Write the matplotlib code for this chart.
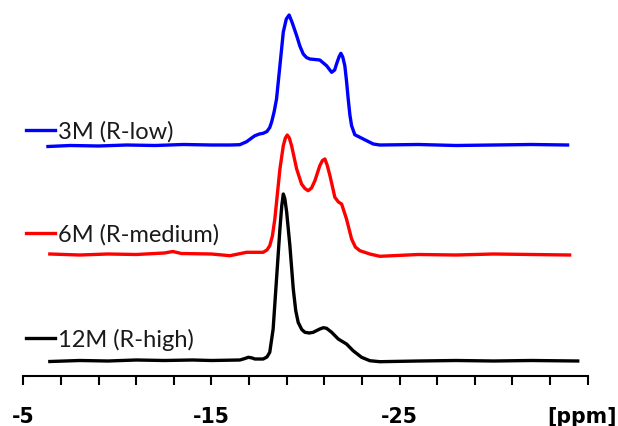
import numpy as np
import matplotlib
matplotlib.use('Agg')
import matplotlib.pyplot as plt

plt.rcParams['font.family'] = ['Lato', 'DejaVu Sans']

# chemical shift [ppm] and intensity above own baseline (arbitrary units)
ppm_low = [-6.31, -7.5, -9.0, -10.5, -12.0, -13.5, -15.0, -15.98, -16.51, -16.87, -17.1,
           -17.31, -17.55, -17.75, -17.95, -18.10, -18.20, -18.33, -18.46, -18.64, -18.82,
           -18.98, -19.13, -19.3, -19.53, -19.7, -19.88, -20.05, -20.23, -20.5, -20.76,
           -21.12, -21.39, -21.55, -21.65, -21.78, -21.88, -21.98, -22.09, -22.18, -22.27,
           -22.36, -22.45, -22.62, -23.07, -23.6, -23.95, -26.0, -28.0, -30.0, -32.0, -33.93]
int_low = [-1.5, -0.5, -1.0, 0.0, -0.5, 0.5, 0.0, 0.0, 0.3, 3.3, 6.5,
           9.3, 11.0, 11.7, 13.5, 17.5, 23.0, 33.0, 46.0, 79.3, 113.0,
           126.0, 130.0, 122.0, 109.3, 99.0, 91.0, 87.5, 86.0, 85.5, 85.0,
           79.3, 72.7, 75.0, 81.0, 88.0, 91.7, 88.0, 79.3, 64.0, 46.0,
           30.0, 19.3, 10.3, 6.0, 1.0, 0.0, 0.5, -0.5, 0.0, 0.5, 0.0]

ppm_med = [-6.41, -8.0, -9.5, -11.0, -12.5, -12.95, -13.4, -15.0, -15.98, -16.87, -17.75,
           -17.95, -18.10, -18.24, -18.37, -18.64, -18.82, -18.93, -19.03, -19.14, -19.26,
           -19.53, -19.79, -19.97, -20.14, -20.32, -20.50, -20.76, -20.9, -21.03, -21.15,
           -21.30, -21.56, -21.75, -21.92, -22.18, -22.45, -22.65, -22.89, -23.42, -23.95,
           -26.0, -28.0, -30.0, -32.0, -34.04]
int_med = [0.0, -1.0, 0.0, -0.5, 1.0, 2.5, 0.5, 0.0, -1.7, 1.7, 1.7,
           4.0, 8.3, 18.0, 35.0, 85.0, 108.3, 116.0, 119.0, 116.0, 108.3,
           85.0, 70.0, 65.5, 63.3, 66.0, 73.3, 88.3, 93.5, 95.0, 89.0,
           78.3, 56.7, 52.0, 50.0, 35.0, 15.0, 7.0, 3.3, 0.0, -2.3,
           -0.5, -1.0, 0.0, -0.5, -1.0]

ppm_high = [-6.41, -8.0, -9.5, -11.0, -12.5, -14.0, -15.0, -16.51, -16.75, -16.96, -17.15,
            -17.31, -17.75, -17.95, -18.10, -18.28, -18.46, -18.64, -18.74, -18.82, -18.9,
            -19.00, -19.17, -19.35, -19.48, -19.61, -19.8, -19.97, -20.2, -20.41, -20.76,
            -20.95, -21.12, -21.39, -21.74, -22.18, -22.53, -22.98, -23.42, -23.95, -26.0,
            -28.0, -30.0, -32.0, -34.47]
int_high = [-1.0, 0.0, -0.5, 0.5, 0.0, 0.5, 0.0, 0.5, 1.8, 3.2, 2.6,
            1.5, 1.5, 3.5, 8.2, 31.5, 81.5, 131.5, 155.0, 166.5, 162.0,
            148.2, 114.8, 71.5, 50.0, 38.2, 31.0, 28.2, 27.5, 28.2, 31.5,
            32.8, 32.2, 28.2, 21.5, 16.5, 9.8, 3.2, -0.2, -1.2, -0.5,
            0.0, -0.5, 0.0, -0.5]

labels = ['3M (R-low)', '6M (R-medium)', '12M (R-high)']
colors = ['#0000FF', '#FF0000', '#000000']
offsets = [230.7, 121.7, 15.2]
label_y = [246.0, 142.7, 37.7]

fig = plt.figure(figsize=(6.18, 4.27), dpi=100)
ax = fig.add_axes([23.3 / 618, 50.3 / 427, 564.4 / 618, 376.7 / 427])

series = [(ppm_low, int_low), (ppm_med, int_med), (ppm_high, int_high)]
for (x, y), c, off, lab, ly in zip(series, colors, offsets, labels, label_y):
    ax.plot(x, np.array(y) + off, color=c, lw=2.4, solid_joinstyle='round')
    ax.plot([-5.14, -6.68], [ly, ly], color=c, lw=2.4, clip_on=False)
    ax.text(-6.84, ly - 1, lab, fontsize=17, ha='left', va='center', color='#1a1a1a')

ax.set_xlim(-5, -35)
ax.set_ylim(0, 376.7)
for s in ['top', 'right', 'left']:
    ax.spines[s].set_visible(False)
ax.spines['bottom'].set_linewidth(1.5)
ax.set_yticks([])
ax.set_xticks(np.arange(-5, -36, -2))
ax.set_xticklabels([])
ax.tick_params(axis='x', direction='out', length=6.5, width=1.5)

tick_text = [(-5, '-5'), (-15, '-15'), (-25, '-25')]
for v, t in tick_text:
    px = 23.3 + (-5 - v) * 18.82
    fig.text(px / 618, 4 / 427, t, fontsize=14.8, fontweight='bold',
             family='DejaVu Sans', ha='center', va='baseline')
fig.text(617 / 618, 4 / 427, '[ppm]', fontsize=14.8, fontweight='bold',
         family='DejaVu Sans', ha='right', va='baseline')

fig.savefig('out.png', dpi=100)
